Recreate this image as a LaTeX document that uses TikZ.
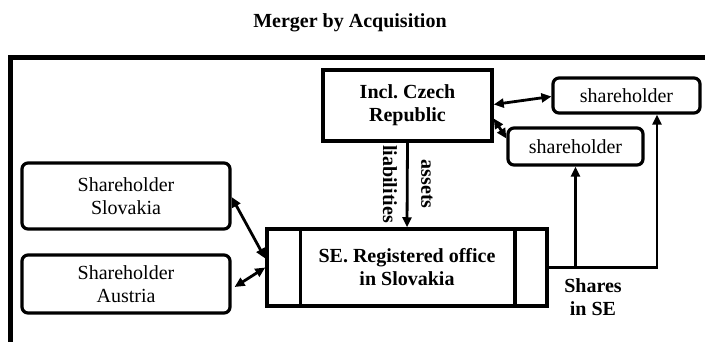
\documentclass[tikz,border=0pt]{standalone}
\usepackage{fontspec}
\setmainfont{Liberation Serif}
\frenchspacing
\usetikzlibrary{arrows.meta,calc}
\tikzset{
  box/.style={draw,line width=3.5pt,inner sep=0pt,align=center,font=\fontsize{20}{23}\selectfont},
  bbox/.style={box,font=\fontsize{20}{23}\selectfont\bfseries},
  rbox/.style={box,rounded corners=6pt,line width=3.2pt},
  conn/.style={line width=2.8pt},
  tip/.style={-{Triangle[length=10pt,width=9pt]}},
  dtip/.style={{Triangle[length=10pt,width=9pt]}-{Triangle[length=10pt,width=9pt]}},
  lbl/.style={font=\fontsize{20}{23}\selectfont\bfseries,align=center,inner sep=0pt}
}
\begin{document}
\begin{tikzpicture}[x=1pt,y=-1pt]
\useasboundingbox (0,0) rectangle (705,341);
\node[font=\fontsize{20}{23}\selectfont\bfseries,anchor=base] (title) at (350,27) {Merger by Acquisition};
\draw[line width=4.5pt] (10.5,345) -- (10.5,57.5) -- (710,57.5);
\node[bbox,minimum width=169pt,minimum height=71pt] (cz) at (407.5,105.5) {Incl.\ Czech\\Republic};
\node[rbox,minimum width=147pt,minimum height=35pt] (sh1) at (626.5,95.5) {shareholder};
\node[rbox,minimum width=135pt,minimum height=37pt] (sh2) at (575.5,146.5) {shareholder};
\node[rbox,minimum width=208pt,minimum height=66pt] (sk) at (126,196) {Shareholder\\Slovakia};
\node[rbox,minimum width=208pt,minimum height=58pt] (at) at (126,284) {Shareholder\\Austria};
\node[bbox,minimum width=280pt,minimum height=77pt] (se) at (407,267.5) {SE. Registered office\\in Slovakia};
\draw[line width=3.5pt] ([xshift=35pt]se.north west) -- ([xshift=35pt]se.south west);
\draw[line width=3.5pt] ([xshift=-34pt]se.north east) -- ([xshift=-34pt]se.south east);
\draw[conn,dtip] ([yshift=1pt]cz.east) -- ([yshift=-1pt]sh1.west);
\draw[conn,dtip] ([yshift=-13pt]cz.east) -- ([yshift=8pt]sh2.west);
\draw[conn,dtip] ([yshift=-1pt]sk.east) -- ([yshift=9pt]se.west);
\draw[conn,dtip] ([xshift=3pt,yshift=-3pt]at.east) -- ([yshift=0pt]se.west);
\draw[conn,tip] (cz.south) -- (se.north);
\node[lbl,rotate=-90] (liab) at (390,184) {liabilities};
\node[lbl,rotate=-90] (ass) at (427,184) {assets};
\coordinate (br) at (sh2.south |- se.east);
\draw[conn,tip] (se.east) -| ([xshift=30.5pt]sh1.south);
\draw[conn,tip] (br) -- (sh2.south);
\node[lbl] (shares) at (593,297) {Shares\\in SE};
\end{tikzpicture}
\end{document}
